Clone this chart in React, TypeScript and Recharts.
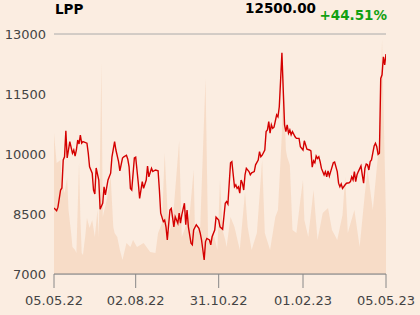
import { ComposedChart, Line, Area, XAxis, YAxis, CartesianGrid } from "recharts";

// session index (0 = 05.05.22, 252 = 05.05.23) and close price
const priceSessions = [
  0, 2, 3, 5, 6, 7, 8, 9, 10, 12, 14, 15, 16, 17, 18, 19, 20, 21, 22, 25, 26, 27, 29, 30, 31, 32, 34, 35, 37, 38,
  39, 41, 43, 44, 46, 47, 49, 50, 52, 53, 55, 56, 57, 58, 59, 61, 62, 64, 65, 67, 68, 70, 71, 72, 74, 75, 77, 79,
  80, 81, 83, 84, 85, 86, 88, 89, 91, 92, 94, 95, 96, 97, 99, 100, 101, 102, 104, 105, 106, 108, 110, 111, 112,
  114, 115, 116, 118, 119, 120, 122, 123, 125, 126, 128, 130, 131, 132, 134, 135, 137, 138, 139, 140, 141, 142,
  143, 144, 145, 146, 148, 149, 150, 152, 153, 155, 156, 157, 158, 160, 161, 162, 163, 164, 165, 166, 167, 169,
  170, 171, 172, 173, 174, 175, 176, 177, 178, 179, 180, 181, 183, 184, 186, 187, 189, 190, 192, 194, 195, 196,
  197, 198, 199, 200, 201, 202, 203, 205, 206, 207, 208, 209, 210, 212, 213, 215, 216, 217, 218, 219, 221, 222,
  224, 225, 226, 227, 228, 229, 230, 231, 233, 234, 235, 236, 237, 238, 239, 240, 241, 242, 243, 244, 245, 246,
  247, 248, 249, 250, 251, 252,
];
const prices = [
  8650, 8580, 8670, 9100, 9150, 9850, 9930, 10580, 9900, 10310, 10020, 10100, 9950, 10100, 10350, 10250, 10470,
  10270, 10310, 10270, 10020, 9680, 9520, 9100, 9000, 9650, 9350, 8620, 8770, 9180, 8980, 9350, 9520, 9930,
  10310, 10100, 9810, 9580, 9900, 9930, 9970, 9870, 9680, 9140, 9100, 9900, 9920, 9270, 8890, 9310, 9140, 9350,
  9700, 9430, 9640, 9560, 9600, 9580, 9100, 8520, 8310, 8350, 8180, 7850, 8600, 8640, 8180, 8430, 8270, 8520,
  8270, 8480, 8770, 8230, 8600, 8180, 7770, 7730, 8100, 8230, 8140, 8020, 7850, 7350, 7810, 7890, 7850, 7730,
  7930, 8100, 8420, 8350, 8180, 8120, 8770, 8810, 8750, 9780, 9810, 9180, 9230, 9140, 9180, 9020, 9350, 9270,
  9100, 9480, 9640, 9560, 9480, 9530, 9560, 9730, 9850, 10060, 9930, 9970, 10100, 10560, 10600, 10810, 10520,
  10730, 10640, 10670, 10980, 10930, 11180, 11850, 12530, 11600, 10730, 10560, 10730, 10520, 10600, 10480,
  10560, 10430, 10390, 10390, 10180, 10100, 10330, 10120, 10100, 10080, 9670, 9830, 9780, 9950, 9890, 9930,
  9810, 9640, 9480, 9560, 9430, 9580, 9450, 9560, 9780, 9800, 9560, 9270, 9180, 9250, 9140, 9230, 9270, 9280,
  9310, 9430, 9350, 9560, 9310, 9480, 9560, 9700, 9480, 9270, 9640, 9750, 9730, 9600, 9810, 9850, 10030, 10200,
  10270, 10180, 9990, 10020, 11890, 11980, 12430, 12230, 12500,
];

// turnover (thousand shares, rough) drawn as the pale background area
const volumeSessions = [
  0, 2, 5, 6, 8, 10, 11, 13, 14, 16, 17, 19, 20, 21, 22, 24, 25, 27, 29, 31, 33, 34, 36, 37, 40, 43, 45, 46, 48,
  50, 52, 55, 58, 60, 63, 68, 73, 77, 79, 82, 84, 87, 90, 95, 97, 99, 103, 106, 107, 111, 115, 117, 121, 124,
  126, 128, 130, 131, 134, 137, 141, 145, 147, 150, 154, 158, 160, 164, 168, 170, 173, 174, 176, 177, 179, 181,
  184, 187, 189, 190, 193, 197, 200, 204, 208, 211, 215, 219, 221, 223, 228, 232, 236, 238, 242, 247, 249, 252,
];
const volumes = [
  141, 111, 114, 91, 81, 96, 64, 41, 27, 24, 21, 111, 57, 21, 19, 41, 56, 46, 54, 37, 64, 37, 211, 57, 74, 97,
  47, 41, 37, 24, 14, 31, 27, 34, 27, 31, 22, 21, 41, 51, 121, 41, 51, 133, 37, 44, 60, 104, 41, 47, 195, 31, 41,
  24, 94, 44, 34, 27, 57, 47, 24, 82, 47, 24, 41, 114, 41, 24, 57, 64, 141, 201, 124, 117, 109, 44, 41, 74, 94,
  54, 37, 84, 34, 61, 66, 44, 34, 59, 97, 41, 64, 27, 81, 104, 64, 134, 234, 54,
];

const tickSessions = [0, 62, 125, 189, 252];
const tickLabels = ["05.05.22", "02.08.22", "31.10.22", "01.02.23", "05.05.23"];
const priceTicks = [7000, 8500, 10000, 11500, 13000];

const priceData = priceSessions.map((s, i) => ({ s, price: prices[i] }));
const volumeData = volumeSessions.map((s, i) => ({ s, vol: volumes[i] }));

const font = "DejaVu Sans";
const tickStyle = { fontSize: 13, fill: "#444", fontFamily: font };

export default function App() {
  return (
    <div style={{ position: "relative", width: 420, height: 315, background: "#fbede1", fontFamily: font }}>
      <style>{`body { margin: 0; }`}</style>
      <div style={{ position: "absolute", left: 55, top: 1, fontSize: 13.5, fontWeight: "bold", color: "#000" }}>
        LPP
      </div>
      <div style={{ position: "absolute", right: 104, top: 0, fontSize: 13.5, fontWeight: "bold", color: "#000" }}>
        12500.00
      </div>
      <div style={{ position: "absolute", right: 33, top: 7, fontSize: 13.5, fontWeight: "bold", color: "#12a012" }}>
        +44.51%
      </div>
      <ComposedChart width={420} height={315} margin={{ top: 34, right: 34, left: 0, bottom: 0 }}>
        <CartesianGrid vertical={false} stroke="#aaa" />
        <XAxis
          dataKey="s"
          type="number"
          domain={[0, 252]}
          ticks={tickSessions}
          tickFormatter={(v: number) => tickLabels[tickSessions.indexOf(v)]}
          allowDataOverflow
          height={41}
          tickSize={14}
          tickMargin={8}
          stroke="#888"
          tick={tickStyle}
        />
        <YAxis
          yAxisId="price"
          domain={[7000, 13000]}
          ticks={priceTicks}
          width={54}
          axisLine={false}
          tickLine={false}
          tick={tickStyle}
        />
        <YAxis yAxisId="vol" orientation="right" domain={[0, 240]} hide />
        <Area
          yAxisId="vol"
          data={volumeData}
          dataKey="vol"
          type="linear"
          stroke="none"
          fill="#f6d5bd"
          fillOpacity={0.75}
          isAnimationActive={false}
        />
        <Line
          yAxisId="price"
          data={priceData}
          dataKey="price"
          type="linear"
          stroke="#d40000"
          strokeWidth={1.4}
          dot={false}
          isAnimationActive={false}
        />
      </ComposedChart>
    </div>
  );
}
